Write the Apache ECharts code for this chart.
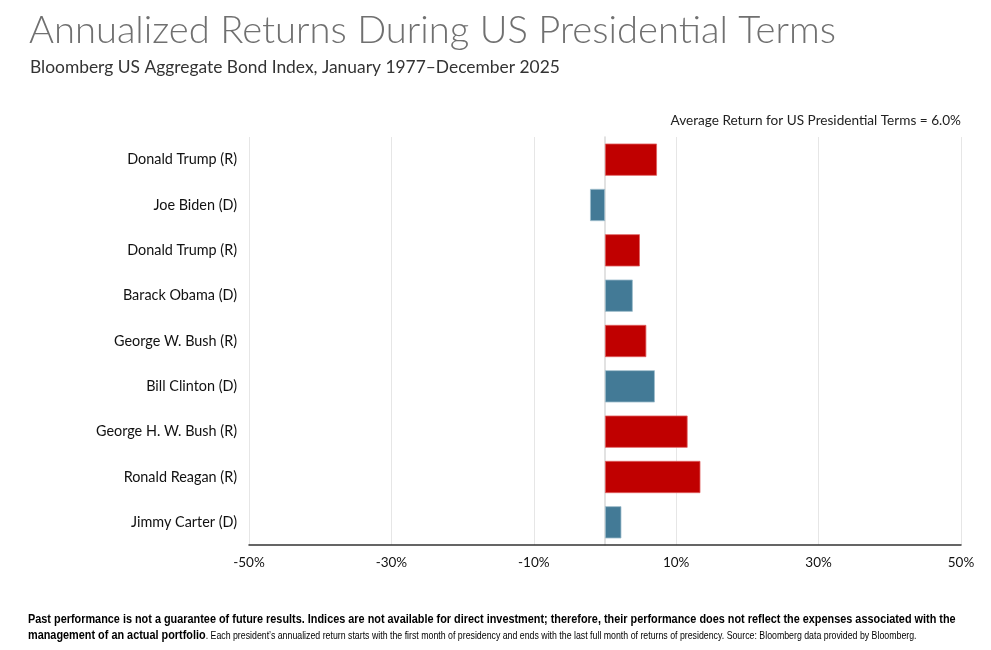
<!DOCTYPE html>
<html>
<head>
<meta charset="utf-8">
<script src="https://cdn.jsdelivr.net/npm/echarts@6/dist/echarts.min.js"></script>
<style>
  html, body { margin: 0; padding: 0; background: #fff; }
  #main { width: 991px; height: 650px; }
</style>
</head>
<body>
<div id="main"></div>
<script>
// presidents, bottom to top (category axis runs upward)
var presidents = ['Jimmy Carter (D)', 'Ronald Reagan (R)', 'George H. W. Bush (R)', 'Bill Clinton (D)',
    'George W. Bush (R)', 'Barack Obama (D)', 'Donald Trump (R)', 'Joe Biden (D)', 'Donald Trump (R)'];
var parties = ['D', 'R', 'R', 'D', 'R', 'D', 'R', 'D', 'R'];
// annualized return, %
var returns = [2.3, 13.4, 11.6, 7.0, 5.8, 3.9, 4.9, -2.1, 7.3];
var xTicks = [-50, -30, -10, 10, 30, 50];
var avgReturn = 6.0;

var partyColor = { R: '#C00000', D: '#437A96' };
var partyBorder = { R: '#E06060', D: '#9DBCCB' };

var chart = echarts.init(document.getElementById('main'));

var option = {
    backgroundColor: '#fff',
    animation: false,
    title: [
        {
            text: 'Annualized Returns During US Presidential Terms',
            left: 24, top: 7,
            textStyle: { fontFamily: 'Lato', fontWeight: 300, fontSize: 38.2, color: '#707070' }
        },
        {
            text: 'Bloomberg US Aggregate Bond Index, January 1977\u2013December 2025',
            left: 25, top: 54,
            textStyle: { fontFamily: 'Lato', fontWeight: 'normal', fontSize: 17.4, color: '#333' }
        },
        {
            text: 'Average Return for US Presidential Terms = ' + avgReturn.toFixed(1) + '%',
            right: 25, top: 109,
            textStyle: { fontFamily: 'Lato', fontWeight: 'normal', fontSize: 13.6, color: '#222' }
        }
    ],
    grid: { left: 249, right: 30, top: 137, bottom: 105 },
    xAxis: {
        type: 'value',
        min: -50, max: 50, interval: 20,
        axisLine: { show: true, lineStyle: { color: '#333', width: 1.5 } },
        axisTick: { show: false },
        axisLabel: {
            margin: 11,
            fontFamily: 'Lato', fontSize: 13.5, color: '#111',
            customValues: xTicks,
            formatter: function (v) { return v + '%'; }
        },
        splitLine: { show: true, lineStyle: { color: '#e6e6e6', width: 1 } }
    },
    yAxis: {
        type: 'category',
        data: presidents,
        axisLine: { show: true, onZero: true, lineStyle: { color: '#d8d8d8', width: 1.5 } },
        axisTick: { show: false },
        axisLabel: {
            margin: 12,
            fontFamily: 'Lato', fontSize: 14.4, color: '#111'
        }
    },
    series: [{
        type: 'bar',
        barCategoryGap: '29%',
        data: returns.map(function (v, i) {
            return {
                value: v,
                itemStyle: { color: partyColor[parties[i]], borderColor: partyBorder[parties[i]], borderWidth: 0.8 }
            };
        })
    }],
    graphic: [{
        // narrow sans look: regular sans squeezed horizontally
        type: 'text',
        x: 28, y: 612,
        scaleX: 0.87,
        style: {
            text: '{b|Past performance is not a guarantee of future results. Indices are not available for direct investment; therefore, their performance does not reflect the expenses associated with the}\n' +
                  '{b|management of an actual portfolio}{s|. Each president\u2019s annualized return starts with the first month of presidency and ends with the last full month of returns of presidency. Source: Bloomberg data provided by Bloomberg.}',
            rich: {
                b: { fontFamily: 'Liberation Sans', fontWeight: 'bold', fontSize: 12.5, color: '#333', lineHeight: 16 },
                s: { fontFamily: 'Liberation Sans', fontSize: 10.1, color: '#444', lineHeight: 16 }
            }
        }
    }]
};

chart.setOption(option);
</script>
</body>
</html>
